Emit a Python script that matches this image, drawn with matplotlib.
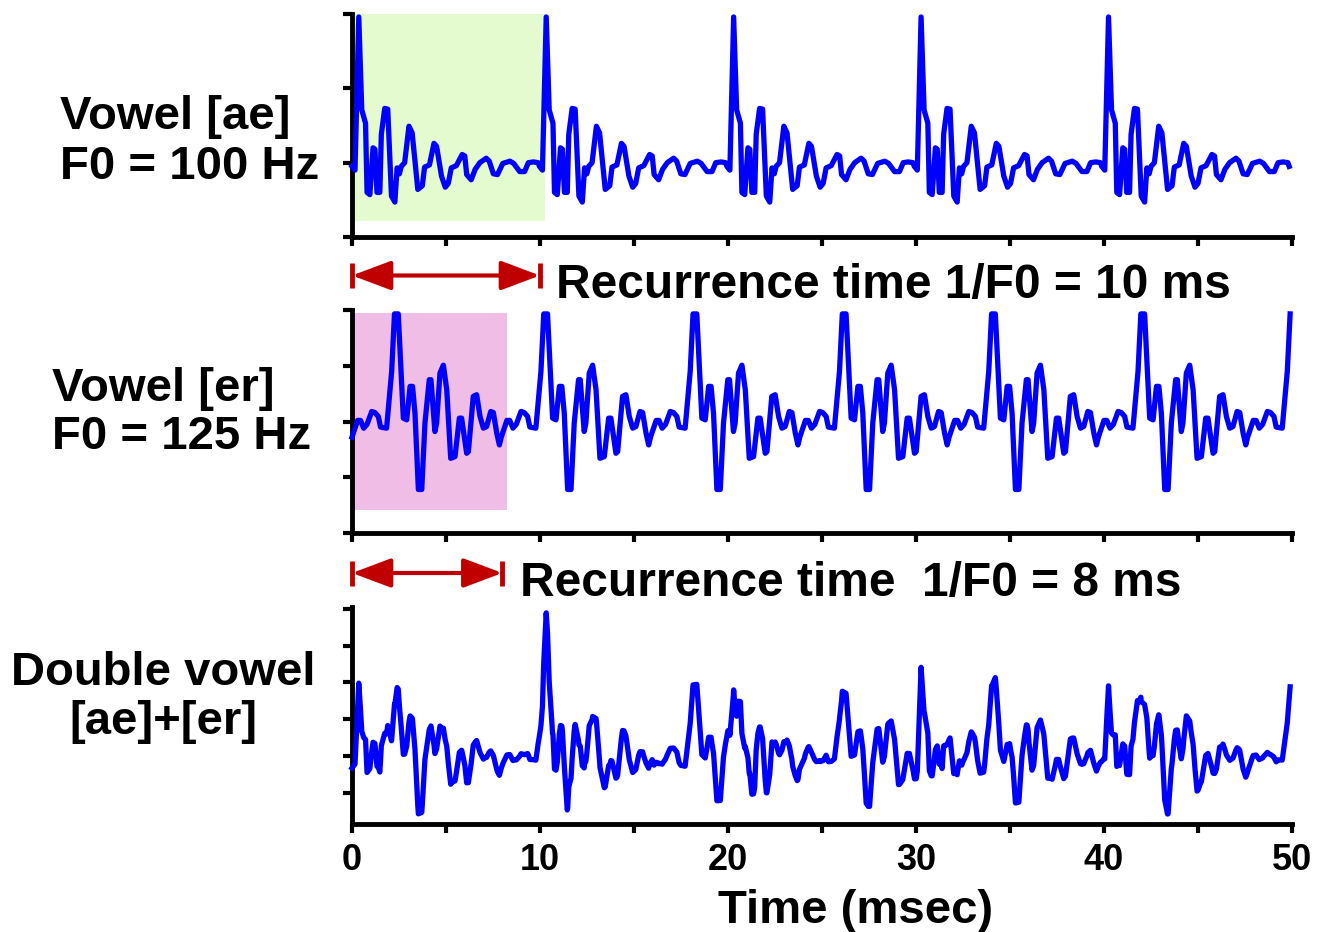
import numpy as np
import matplotlib
matplotlib.use("Agg")
import matplotlib.pyplot as plt
import matplotlib.transforms as mtransforms
from matplotlib.patches import Rectangle, FancyArrowPatch, ArrowStyle
from matplotlib.lines import Line2D

plt.rcParams['font.family'] = ['Liberation Sans', 'DejaVu Sans']
plt.rcParams['font.weight'] = 'bold'

# One pitch cycle of vowel [ae]: time within the cycle (ms) and amplitude
ae_cycle_t = [0.00, 0.16, 0.36, 0.52, 0.72, 0.80, 0.95, 1.12, 1.22, 1.33, 1.48,
              1.56, 1.74, 1.90, 2.10, 2.28, 2.40, 2.52, 2.62, 2.80, 3.03, 3.20,
              3.50, 3.74, 3.86, 4.12, 4.36, 4.50, 4.76, 4.96, 5.12, 5.28, 5.55,
              5.86, 6.00, 6.10, 6.34, 6.55, 6.80, 7.14, 7.30, 7.52, 7.74, 8.02,
              8.40, 8.60, 8.92, 9.18, 9.38, 9.65, 9.90]
ae_cycle_v = [-0.05, -0.10, 1.96, 0.71, 0.53, -0.40, -0.43, 0.20, 0.18, -0.40, -0.40,
              0.38, 0.73, 0.72, -0.45, -0.53, -0.07, -0.15, -0.05, 0.00, 0.49, 0.40,
              -0.36, -0.31, -0.06, -0.03, 0.26, 0.22, -0.18, -0.33, -0.28, -0.07, -0.04,
              0.11, 0.09, -0.16, -0.23, -0.09, 0.00, 0.06, 0.02, -0.15, -0.16, -0.01,
              0.02, -0.01, -0.12, -0.12, 0.00, 0.01, 0.00]

# One pitch cycle of vowel [er]
er_cycle_t = [0.00, 0.10, 0.30, 0.45, 0.62, 0.80, 1.05, 1.22, 1.40, 1.52, 1.84,
              2.11, 2.26, 2.46, 2.73, 2.91, 3.09, 3.22, 3.35, 3.53, 3.71, 3.88,
              4.11, 4.20, 4.41, 4.50, 4.68, 4.86, 5.04, 5.25, 5.48, 5.71, 5.83,
              6.10, 6.19, 6.45, 6.63, 6.81, 6.99, 7.16, 7.38, 7.52, 7.70, 7.84]
er_cycle_v = [-0.28, -0.18, 0.02, 0.02, -0.12, -0.05, 0.18, 0.16, 0.09, -0.10, -0.12,
              0.90, 1.93, 1.93, 0.06, 0.03, 0.63, 0.63, 0.15, -1.22, -1.22, -0.03,
              0.75, 0.75, -0.18, -0.03, 0.87, 1.01, 0.57, -0.66, -0.63, 0.06, 0.06,
              -0.57, -0.54, 0.45, 0.48, 0.09, -0.12, -0.09, 0.18, 0.16, -0.21, -0.42]

ae_period = 9.97   # ms between successive [ae] pulses
er_period = 7.94   # ms between successive [er] pulses
t_end = 50.0

x_ticks = [0, 5, 10, 15, 20, 25, 30, 35, 40, 45, 50]
x_tick_labels = ['0', '', '10', '', '20', '', '30', '', '40', '', '50']


def repeat_cycle(cycle_t, cycle_v, period, stop):
    ts, vs = [], []
    k = 0
    while k * period < stop:
        for t, v in zip(cycle_t, cycle_v):
            tt = k * period + t
            if tt <= stop:
                ts.append(tt)
                vs.append(v)
        k += 1
    return np.array(ts), np.array(vs)


ae_t, ae_v = repeat_cycle(ae_cycle_t, ae_cycle_v, ae_period, t_end)
er_t, er_v = repeat_cycle(er_cycle_t, er_cycle_v, er_period, t_end)

# Double vowel: the two waveforms added together
dv_t = np.union1d(ae_t, er_t)
dv_v = np.interp(dv_t, ae_t, ae_v) + np.interp(dv_t, er_t, er_v)

W, H = 1329, 932
fig = plt.figure(figsize=(W / 100, H / 100), dpi=100)


def rect(top_px, bottom_px):
    return [352 / W, 1 - bottom_px / H, 940 / W, (bottom_px - top_px) / H]


ax1 = fig.add_axes(rect(14, 237))
ax2 = fig.add_axes(rect(310, 533))
ax3 = fig.add_axes(rect(607, 824))

BLUE = '#0000ff'
RED = '#c00000'
LW = 3.8

ax1.plot(ae_t, ae_v, color=BLUE, lw=LW, clip_on=False, zorder=3)
ax2.plot(er_t, er_v, color=BLUE, lw=LW, clip_on=False, zorder=3)
ax3.plot(dv_t, dv_v, color=BLUE, lw=LW, clip_on=False, zorder=3)

ax1.set_ylim(-1, 2)
ax1.set_yticks([-1, 0, 1, 2])
ax2.set_ylim(-2, 2)
ax2.set_yticks([-2, -1, 0, 1, 2])
ax3.set_ylim(-1.85, 4.05)
ax3.set_yticks([-1, 0, 1, 2, 3, 4])

ax1.add_patch(Rectangle((0, -0.79), 10.28, 2.79, facecolor='#e4fbd0',
                        edgecolor='none', zorder=0))
ax2.add_patch(Rectangle((0, -1.59), 8.23, 3.54, facecolor='#f0bde6',
                        edgecolor='none', zorder=0))

for ax in (ax1, ax2, ax3):
    ax.set_xlim(0, 50)
    ax.set_xticks(x_ticks)
    for side in ('top', 'right'):
        ax.spines[side].set_visible(False)
    for side in ('left', 'bottom'):
        ax.spines[side].set_linewidth(3.5)
    ax.tick_params(direction='out', length=6.5, width=3, labelleft=False)
    ax.patch.set_alpha(0)

ax1.tick_params(labelbottom=False)
ax2.tick_params(labelbottom=False)
ax3.set_xticklabels(x_tick_labels, fontsize=26, fontweight='bold')
ax3.tick_params(axis='x', pad=7)


def fig_text(x_px, y_px, s, ha='left', size=34):
    fig.text(x_px / W, 1 - y_px / H, s, ha=ha, va='baseline',
             fontsize=size, fontweight='bold', color='black')


fig_text(60, 129, 'Vowel [ae]')
fig_text(60, 179, 'F0 = 100 Hz')
fig_text(52, 401, 'Vowel [er]')
fig_text(52, 449, 'F0 = 125 Hz')
fig_text(163, 685, 'Double vowel', ha='center')
fig_text(163, 734, '[ae]+[er]', ha='center')
fig_text(556, 298, 'Recurrence time 1/F0 = 10 ms', size=34.5)
fig_text(520, 596, 'Recurrence time  1/F0 = 8 ms', size=34.5)
fig_text(856, 923, 'Time (msec)', ha='center')

# Recurrence-interval arrows spanning one pitch period
blend = mtransforms.blended_transform_factory(ax2.transData, fig.transFigure)
arrow_spans = [(10, 275.5), (8, 573)]
for span, y_px in arrow_spans:
    y = 1 - y_px / H
    half = 12.5 / H
    arr = FancyArrowPatch((0, y), (span, y), transform=blend,
                          arrowstyle=ArrowStyle('<|-|>', head_length=24, head_width=9),
                          mutation_scale=1, lw=3, color=RED,
                          shrinkA=0, shrinkB=0, clip_on=False)
    fig.add_artist(arr)
    for xb in (0, span):
        fig.add_artist(Line2D([xb, xb], [y - half, y + half], transform=blend,
                              color=RED, lw=3.5, solid_capstyle='butt'))

fig.savefig('out.png', dpi=100)
